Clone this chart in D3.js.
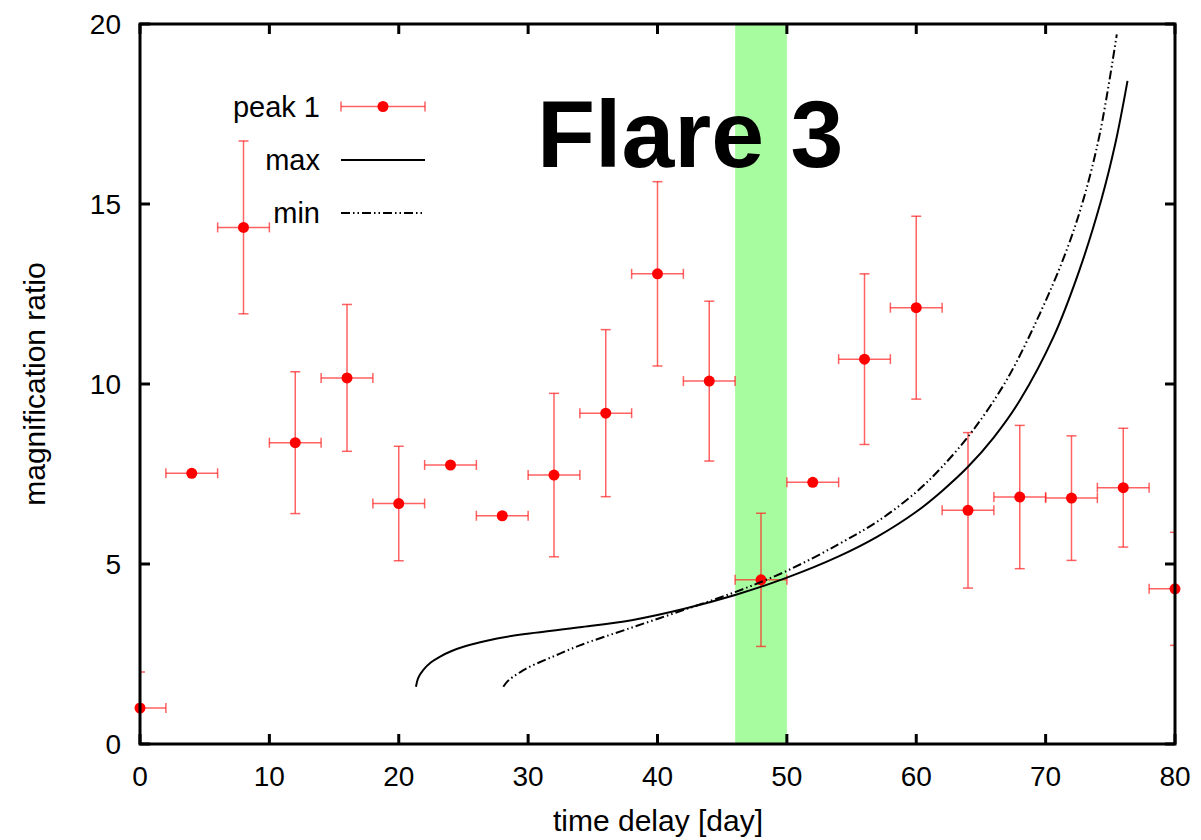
<!DOCTYPE html>
<html>
<head>
<meta charset="utf-8">
<script src="https://cdn.jsdelivr.net/npm/d3@7"></script>
<style>
  html, body { margin: 0; padding: 0; background: #fff; }
  svg { display: block; }
  text { font-family: "Liberation Sans", Arial, Helvetica, sans-serif; fill: #000; }
</style>
</head>
<body>
<svg id="chart" width="1201" height="840"></svg>
<script>
// Time delay samples (days) and measured magnification ratio of peak 1
const days = [0, 4, 8, 12, 16, 20, 24, 28, 32, 36, 40, 44, 48, 52, 56, 60, 64, 68, 72, 76, 80];
const ratio = [1.0, 7.52, 14.35, 8.37, 10.17, 6.68, 7.75, 6.34, 7.47, 9.19, 13.06, 10.08, 4.56, 7.27, 10.69, 12.12, 6.49, 6.86, 6.83, 7.12, 4.31];
const ratioErr = [1.0, 0, 2.4, 1.97, 2.04, 1.59, 0, 0, 2.27, 2.32, 2.56, 2.22, 1.85, 0, 2.37, 2.54, 2.16, 1.99, 1.73, 1.65, 1.57];
const dayErr = 2;

// Model curves: upper (max) and lower (min) bounds, as [day, ratio]
const maxCurve = [
  [21.33, 1.59], [21.5, 1.83], [21.9, 2.06], [22.5, 2.27], [23.2, 2.43], [24.0, 2.57],
  [25.0, 2.7], [27.6, 2.93], [30.1, 3.07], [34.0, 3.24], [38.0, 3.44], [42.0, 3.75],
  [46.0, 4.14], [50.0, 4.62], [54.0, 5.21], [57.0, 5.76], [60.0, 6.45], [62.0, 7.03],
  [64.0, 7.7], [66.0, 8.52], [68.0, 9.54], [70.6, 11.3], [72.6, 13.15], [74.3, 15.11],
  [75.4, 16.7], [76.33, 18.42]
];
const minCurve = [
  [28.08, 1.59], [28.4, 1.74], [28.85, 1.87], [29.5, 2.02], [30.14, 2.15], [31.94, 2.43],
  [34.0, 2.74], [37.9, 3.22], [42.0, 3.72], [46.0, 4.22], [50.0, 4.81], [54.0, 5.55],
  [57.0, 6.18], [60.0, 7.0], [62.0, 7.7], [64.4, 8.72], [67.0, 10.12], [69.55, 11.95],
  [71.5, 13.6], [72.9, 15.1], [74.2, 16.97], [75.5, 19.71]
];

// Highlighted delay window (days)
const windowDays = [46, 50];

// Axis tick values
const xTicks = [0, 10, 20, 30, 40, 50, 60, 70, 80];
const yTicks = [0, 5, 10, 15, 20];

const svg = d3.select("#chart");
const plotL = 140, plotR = 1175, plotT = 24, plotB = 744;

const x = d3.scaleLinear().domain([0, 80]).range([plotL, plotR]);
const y = d3.scaleLinear().domain([0, 20]).range([plotB, plotT]);

svg.append("defs").append("clipPath").attr("id", "plotclip")
  .append("rect").attr("x", plotL).attr("y", plotT)
  .attr("width", plotR - plotL).attr("height", plotB - plotT);

// Delay window band
svg.append("rect")
  .attr("x", x(windowDays[0])).attr("y", y(20))
  .attr("width", x(windowDays[1]) - x(windowDays[0]))
  .attr("height", y(0) - y(20))
  .attr("fill", "#a8fca0");

// Error bars
const pts = days.map((d, i) => ({ d, r: ratio[i], e: ratioErr[i] }));
const errColor = "#ff2020", errOpacity = 0.7;
const errG = svg.append("g").attr("clip-path", "url(#plotclip)")
  .attr("stroke", errColor).attr("stroke-opacity", errOpacity).attr("stroke-width", 1.5).attr("fill", "none");
const cap = 5;
pts.forEach(p => {
  const cx = x(p.d), cy = y(p.r);
  const x0 = x(p.d - dayErr), x1 = x(p.d + dayErr);
  errG.append("line").attr("x1", x0).attr("x2", x1).attr("y1", cy).attr("y2", cy);
  errG.append("line").attr("x1", x0).attr("x2", x0).attr("y1", cy - cap).attr("y2", cy + cap);
  errG.append("line").attr("x1", x1).attr("x2", x1).attr("y1", cy - cap).attr("y2", cy + cap);
  if (p.e > 0) {
    const y0 = y(p.r - p.e), y1 = y(p.r + p.e);
    errG.append("line").attr("x1", cx).attr("x2", cx).attr("y1", y0).attr("y2", y1);
    errG.append("line").attr("x1", cx - cap).attr("x2", cx + cap).attr("y1", y0).attr("y2", y0);
    errG.append("line").attr("x1", cx - cap).attr("x2", cx + cap).attr("y1", y1).attr("y2", y1);
  }
});

// Data points
svg.append("g").selectAll("circle").data(pts).join("circle")
  .attr("cx", p => x(p.d)).attr("cy", p => y(p.r)).attr("r", 5.5)
  .attr("fill", "#ff0000");

// Model curves
const line = d3.line().x(d => x(d[0])).y(d => y(d[1])).curve(d3.curveCatmullRom.alpha(0.5));
svg.append("path").attr("d", line(maxCurve))
  .attr("fill", "none").attr("stroke", "#000").attr("stroke-width", 2);
const dashPattern = "9,3,1.5,3,1.5,3";
svg.append("path").attr("d", line(minCurve))
  .attr("fill", "none").attr("stroke", "#000").attr("stroke-width", 2)
  .attr("stroke-dasharray", dashPattern);

// Frame
svg.append("rect").attr("x", plotL).attr("y", plotT)
  .attr("width", plotR - plotL).attr("height", plotB - plotT)
  .attr("fill", "none").attr("stroke", "#000").attr("stroke-width", 3);

// Inward ticks on all four sides
const tickLen = 10;
const tickG = svg.append("g").attr("stroke", "#000").attr("stroke-width", 3);
xTicks.forEach(t => {
  tickG.append("line").attr("x1", x(t)).attr("x2", x(t)).attr("y1", plotB).attr("y2", plotB - tickLen);
  tickG.append("line").attr("x1", x(t)).attr("x2", x(t)).attr("y1", plotT).attr("y2", plotT + tickLen);
});
yTicks.forEach(t => {
  tickG.append("line").attr("x1", plotL).attr("x2", plotL + tickLen).attr("y1", y(t)).attr("y2", y(t));
  tickG.append("line").attr("x1", plotR).attr("x2", plotR - tickLen).attr("y1", y(t)).attr("y2", y(t));
});

// Tick labels
svg.append("g").selectAll("text").data(xTicks).join("text")
  .attr("x", d => x(d)).attr("y", 786)
  .attr("text-anchor", "middle").attr("font-size", 28)
  .text(d => d);
svg.append("g").selectAll("text").data(yTicks).join("text")
  .attr("x", 121).attr("y", d => y(d)).attr("dy", "0.35em")
  .attr("text-anchor", "end").attr("font-size", 28)
  .text(d => d);

// Axis titles
svg.append("text").attr("x", 658).attr("y", 831)
  .attr("text-anchor", "middle").attr("font-size", 30)
  .text("time delay [day]");
svg.append("text")
  .attr("transform", "translate(45,384) rotate(-90)")
  .attr("text-anchor", "middle").attr("font-size", 30)
  .text("magnification ratio");

// Legend
const legX0 = 341, legX1 = 425, legText = 320;
const leg = svg.append("g");
const rows = [106.5, 160, 213];
["peak 1", "max", "min"].forEach((t, i) => {
  leg.append("text").attr("x", legText).attr("y", rows[i]).attr("dy", "0.35em")
    .attr("text-anchor", "end").attr("font-size", 29).text(t);
});
const lg = leg.append("g").attr("stroke", errColor).attr("stroke-opacity", errOpacity).attr("stroke-width", 1.5);
lg.append("line").attr("x1", legX0).attr("x2", legX1).attr("y1", rows[0]).attr("y2", rows[0]);
lg.append("line").attr("x1", legX0).attr("x2", legX0).attr("y1", rows[0] - cap).attr("y2", rows[0] + cap);
lg.append("line").attr("x1", legX1).attr("x2", legX1).attr("y1", rows[0] - cap).attr("y2", rows[0] + cap);
leg.append("circle").attr("cx", (legX0 + legX1) / 2).attr("cy", rows[0]).attr("r", 5.5).attr("fill", "#ff0000");
leg.append("line").attr("x1", legX0).attr("x2", legX1).attr("y1", rows[1]).attr("y2", rows[1])
  .attr("stroke", "#000").attr("stroke-width", 2);
leg.append("line").attr("x1", legX0).attr("x2", legX1).attr("y1", rows[2]).attr("y2", rows[2])
  .attr("stroke", "#000").attr("stroke-width", 2).attr("stroke-dasharray", dashPattern);

// Panel title
svg.append("text").attr("x", 537).attr("y", 167)
  .attr("font-size", 95).attr("font-weight", "bold")
  .text("Flare 3");
</script>
</body>
</html>
